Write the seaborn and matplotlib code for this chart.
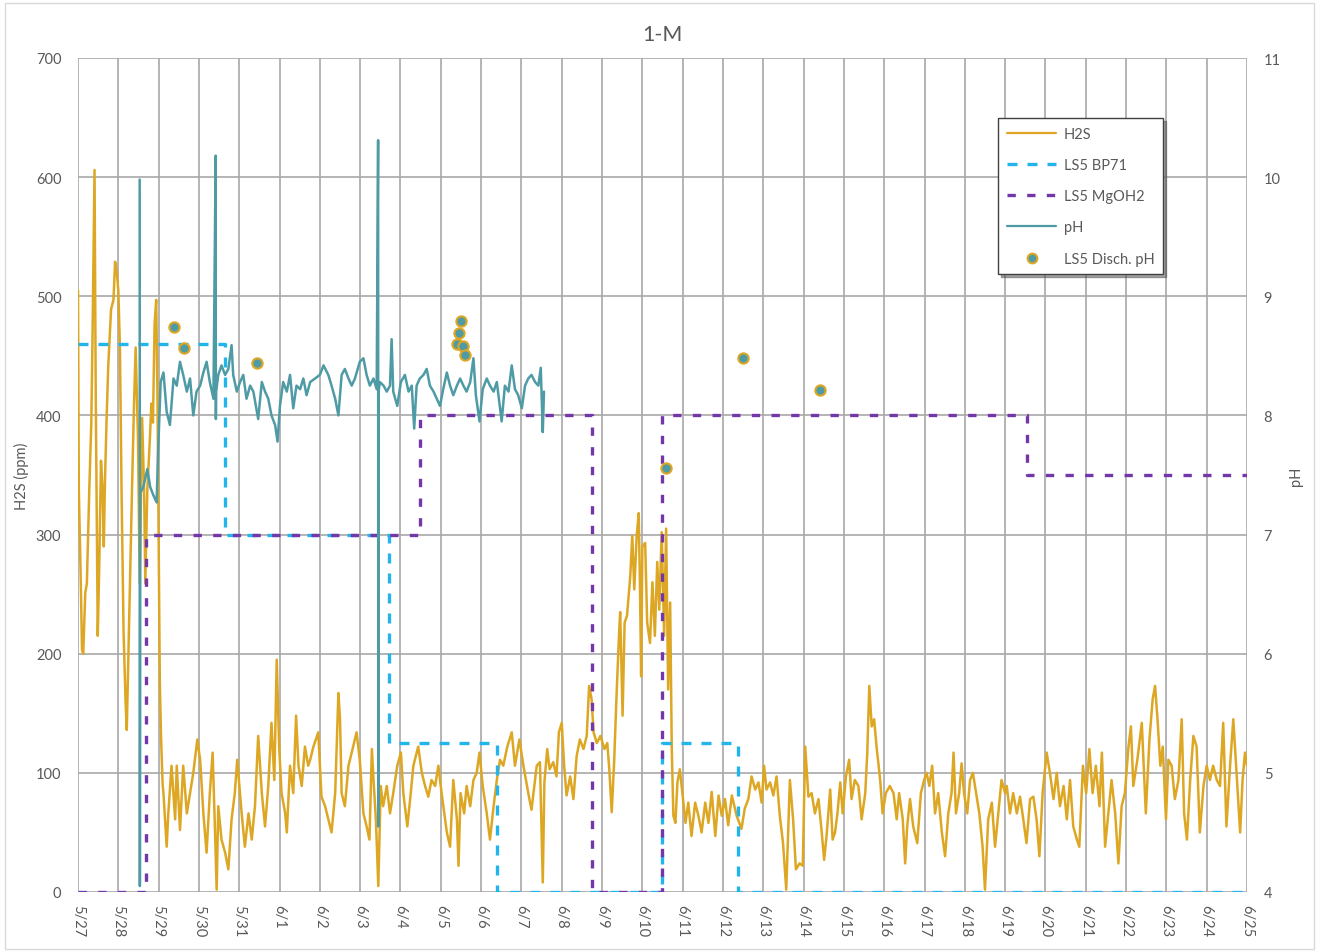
import numpy as np
import pandas as pd
import matplotlib
matplotlib.use("Agg")
import matplotlib.pyplot as plt
import matplotlib.patches as mpatches
from matplotlib.lines import Line2D
import seaborn as sns

# ---------------- data (x = days since 5/27 00:00) ----------------
date_labels = ["5/27", "5/28", "5/29", "5/30", "5/31", "6/1", "6/2", "6/3", "6/4", "6/5",
               "6/6", "6/7", "6/8", "6/9", "6/10", "6/11", "6/12", "6/13", "6/14", "6/15",
               "6/16", "6/17", "6/18", "6/19", "6/20", "6/21", "6/22", "6/23", "6/24", "6/25"]

h2s_day = [0.00, 0.02, 0.06, 0.10, 0.13, 0.18, 0.22, 0.28, 0.33, 0.36, 0.41, 0.44, 0.49, 0.53, 0.57, 0.61,
           0.64, 0.67, 0.71, 0.75, 0.82, 0.88, 0.92, 0.96, 1.00, 1.04, 1.08, 1.13, 1.18, 1.21, 1.25, 1.30,
           1.34, 1.39, 1.43, 1.49, 1.53, 1.59, 1.64, 1.67, 1.72, 1.78, 1.82, 1.86, 1.90, 1.94, 1.97, 2.00,
           2.03, 2.06, 2.10, 2.12, 2.20, 2.24, 2.32, 2.41, 2.45, 2.53, 2.61, 2.70, 2.78, 2.86, 2.96, 3.03,
           3.11, 3.19, 3.27, 3.34, 3.40, 3.44, 3.48, 3.56, 3.65, 3.73, 3.81, 3.89, 3.95, 4.06, 4.14, 4.23,
           4.31, 4.39, 4.47, 4.56, 4.64, 4.72, 4.80, 4.87, 4.93, 4.99, 5.05, 5.14, 5.18, 5.26, 5.34, 5.41,
           5.47, 5.55, 5.63, 5.71, 5.76, 5.84, 5.96, 6.04, 6.13, 6.21, 6.29, 6.38, 6.46, 6.50, 6.54, 6.62,
           6.71, 6.79, 6.91, 6.99, 7.08, 7.16, 7.23, 7.29, 7.34, 7.39, 7.45, 7.51, 7.57, 7.66, 7.74, 7.82,
           7.92, 8.01, 8.07, 8.17, 8.24, 8.32, 8.44, 8.53, 8.61, 8.69, 8.77, 8.86, 8.94, 9.02, 9.15, 9.23,
           9.31, 9.40, 9.44, 9.49, 9.58, 9.64, 9.73, 9.81, 9.89, 9.96, 10.04, 10.14, 10.22, 10.31, 10.39, 10.47,
           10.55, 10.65, 10.76, 10.84, 10.95, 11.05, 11.17, 11.25, 11.38, 11.46, 11.53, 11.57, 11.64, 11.70, 11.79, 11.87,
           11.93, 12.00, 12.06, 12.12, 12.21, 12.29, 12.37, 12.45, 12.54, 12.62, 12.68, 12.74, 12.79, 12.87, 12.96, 13.06,
           13.13, 13.18, 13.24, 13.30, 13.36, 13.42, 13.45, 13.51, 13.56, 13.62, 13.70, 13.75, 13.80, 13.86, 13.91, 13.94,
           13.97, 14.00, 14.07, 14.12, 14.19, 14.25, 14.31, 14.37, 14.42, 14.48, 14.54, 14.59, 14.64, 14.69, 14.73, 14.77,
           14.82, 14.87, 14.93, 15.00, 15.07, 15.14, 15.22, 15.31, 15.39, 15.47, 15.56, 15.64, 15.72, 15.81, 15.89, 15.97,
           16.05, 16.13, 16.22, 16.34, 16.46, 16.54, 16.63, 16.71, 16.80, 16.88, 16.96, 17.02, 17.08, 17.17, 17.25, 17.33,
           17.41, 17.49, 17.57, 17.66, 17.74, 17.81, 17.90, 17.98, 18.04, 18.12, 18.20, 18.28, 18.37, 18.45, 18.51, 18.57,
           18.66, 18.72, 18.78, 18.84, 18.91, 18.97, 19.05, 19.13, 19.19, 19.27, 19.36, 19.44, 19.53, 19.58, 19.63, 19.69,
           19.75, 19.81, 19.90, 19.96, 20.04, 20.14, 20.23, 20.31, 20.37, 20.46, 20.52, 20.57, 20.64, 20.72, 20.82, 20.91,
           20.99, 21.05, 21.12, 21.19, 21.26, 21.34, 21.43, 21.51, 21.59, 21.67, 21.72, 21.78, 21.86, 21.92, 21.98, 22.06,
           22.13, 22.20, 22.28, 22.36, 22.44, 22.50, 22.58, 22.67, 22.75, 22.83, 22.91, 23.00, 23.04, 23.12, 23.20, 23.29,
           23.37, 23.45, 23.53, 23.62, 23.70, 23.78, 23.85, 23.93, 24.03, 24.11, 24.20, 24.28, 24.36, 24.45, 24.53, 24.61,
           24.69, 24.78, 24.84, 24.93, 25.01, 25.09, 25.17, 25.25, 25.34, 25.40, 25.48, 25.56, 25.64, 25.73, 25.81, 25.89,
           25.97, 26.06, 26.12, 26.18, 26.28, 26.39, 26.49, 26.58, 26.66, 26.72, 26.78, 26.85, 26.91, 26.99, 27.05, 27.13,
           27.21, 27.30, 27.38, 27.44, 27.51, 27.59, 27.67, 27.75, 27.83, 27.92, 28.00, 28.08, 28.16, 28.25, 28.33, 28.41,
           28.49, 28.58, 28.66, 28.74, 28.83, 28.89, 28.95, 29.00]

h2s_ppm = [505, 338, 275, 203, 200, 251, 259, 338, 394, 465, 606, 417, 215, 279, 362, 338,
           290, 346, 398, 441, 489, 497, 529, 521, 505, 457, 338, 219, 160, 136, 199, 279,
           338, 410, 457, 378, 259, 398, 338, 259, 338, 378, 410, 394, 477, 497, 420, 300,
           176, 130, 90, 83, 38, 66, 106, 61, 106, 52, 106, 66, 83, 100, 128, 111,
           66, 33, 83, 117, 50, 2, 72, 44, 33, 19, 61, 83, 111, 66, 38, 66,
           44, 72, 131, 83, 55, 89, 142, 94, 195, 122, 83, 66, 50, 106, 83, 148,
           106, 89, 122, 106, 111, 122, 134, 80, 72, 61, 50, 83, 167, 145, 83, 72,
           106, 117, 134, 111, 66, 55, 44, 120, 89, 61, 5, 89, 72, 89, 66, 83,
           106, 117, 83, 55, 78, 106, 122, 100, 89, 80, 94, 89, 106, 83, 50, 38,
           94, 61, 22, 83, 66, 89, 72, 94, 100, 117, 89, 66, 44, 72, 94, 111,
           106, 122, 134, 106, 128, 106, 83, 69, 106, 109, 8, 92, 120, 103, 109, 97,
           134, 142, 106, 81, 97, 78, 114, 128, 120, 131, 173, 162, 134, 125, 131, 120,
           125, 103, 67, 109, 165, 215, 235, 148, 226, 232, 265, 299, 254, 299, 318, 260,
           181, 290, 293, 226, 209, 260, 215, 277, 237, 302, 215, 305, 170, 243, 120, 64,
           58, 92, 103, 81, 58, 75, 47, 75, 64, 50, 75, 58, 84, 47, 81, 64,
           78, 56, 81, 64, 53, 70, 78, 97, 86, 92, 75, 106, 86, 92, 81, 97,
           64, 41, 2, 94, 61, 19, 24, 22, 122, 80, 83, 66, 78, 50, 27, 47,
           86, 44, 50, 66, 92, 66, 97, 111, 78, 94, 89, 61, 83, 117, 173, 139,
           145, 122, 94, 66, 83, 89, 83, 61, 83, 61, 24, 55, 78, 55, 41, 83,
           94, 100, 89, 106, 66, 83, 50, 30, 66, 83, 117, 66, 83, 108, 83, 66,
           94, 100, 83, 66, 38, 2, 61, 75, 38, 66, 94, 83, 89, 66, 83, 66,
           80, 61, 41, 78, 80, 61, 30, 83, 117, 100, 78, 100, 72, 89, 61, 94,
           55, 44, 38, 106, 83, 120, 83, 106, 72, 117, 38, 66, 94, 66, 24, 72,
           83, 122, 139, 89, 111, 142, 66, 128, 162, 173, 145, 106, 122, 61, 111, 106,
           78, 94, 145, 66, 44, 94, 131, 122, 50, 89, 106, 94, 106, 94, 89, 142,
           55, 106, 145, 100, 50, 94, 117, 106]

bp71_day = [0.0, 3.65, 7.72, 10.40, 14.49, 16.37, 29.0]
bp71_ppm = [460, 300, 125, 0, 125, 0, 0]

mg_day = [0.0, 1.69, 8.48, 12.75, 14.49, 23.54, 29.0]
mg_ppm = [0, 300, 400, 0, 400, 350, 350]

ph_day = [1.530, 1.535, 1.545, 1.62, 1.72, 1.79, 1.87, 1.95, 1.99, 2.05, 2.12, 2.20, 2.28, 2.37, 2.45, 2.53,
          2.61, 2.70, 2.78, 2.86, 2.94, 3.03, 3.11, 3.19, 3.27, 3.36, 3.415, 3.42, 3.425, 3.48, 3.56, 3.65,
          3.73, 3.81, 3.85, 3.94, 4.02, 4.10, 4.18, 4.27, 4.35, 4.47, 4.56, 4.64, 4.72, 4.80, 4.89, 4.95,
          5.01, 5.09, 5.18, 5.26, 5.34, 5.42, 5.51, 5.59, 5.67, 5.76, 5.88, 6.00, 6.09, 6.21, 6.29, 6.38,
          6.46, 6.54, 6.62, 6.71, 6.79, 6.87, 6.99, 7.08, 7.16, 7.24, 7.33, 7.41, 7.445, 7.45, 7.455, 7.49,
          7.58, 7.66, 7.74, 7.78, 7.82, 7.92, 8.01, 8.11, 8.20, 8.28, 8.34, 8.40, 8.48, 8.57, 8.65, 8.73,
          8.82, 8.90, 8.98, 9.06, 9.15, 9.23, 9.31, 9.40, 9.48, 9.56, 9.64, 9.73, 9.81, 9.87, 9.96, 10.04,
          10.14, 10.22, 10.31, 10.39, 10.51, 10.59, 10.68, 10.76, 10.84, 10.92, 11.01, 11.09, 11.17, 11.25, 11.34, 11.42,
          11.48, 11.53, 11.56]

ph_val = [9.98, 4.05, 7.35, 7.40, 7.55, 7.40, 7.33, 7.27, 7.72, 8.28, 8.36, 8.03, 7.92, 8.31, 8.25, 8.45,
          8.34, 8.20, 8.31, 8.00, 8.20, 8.25, 8.36, 8.45, 8.28, 8.14, 10.18, 7.97, 8.20, 8.34, 8.42, 8.34,
          8.39, 8.59, 8.34, 8.20, 8.28, 8.34, 8.14, 8.25, 8.20, 7.97, 8.28, 8.20, 8.14, 8.00, 7.92, 7.78,
          8.08, 8.28, 8.20, 8.34, 8.06, 8.25, 8.22, 8.31, 8.17, 8.28, 8.31, 8.34, 8.42, 8.34, 8.25, 8.14,
          8.00, 8.34, 8.39, 8.31, 8.25, 8.31, 8.45, 8.48, 8.34, 8.25, 8.31, 8.22, 10.31, 4.55, 8.20, 8.28,
          8.25, 8.20, 8.25, 8.64, 8.20, 8.08, 8.28, 8.34, 8.20, 8.25, 7.89, 8.25, 8.31, 8.34, 8.39, 8.25,
          8.20, 8.14, 8.08, 8.22, 8.36, 8.25, 8.17, 8.25, 8.31, 8.25, 8.20, 8.28, 8.48, 8.17, 7.95, 8.22,
          8.31, 8.25, 8.20, 8.28, 7.95, 8.25, 8.20, 8.42, 8.22, 8.17, 8.06, 8.25, 8.31, 8.34, 8.28, 8.25,
          8.40, 7.86, 8.20]

disch_day = [2.38, 2.63, 4.44, 9.40, 9.45, 9.50, 9.55, 9.60, 14.59, 16.50, 18.41]
disch_ph = [8.74, 8.57, 8.44, 8.60, 8.69, 8.79, 8.58, 8.51, 7.56, 8.48, 8.21]

# ---------------- styling ----------------
C_H2S = "#DDA724"
C_BP = "#22B5EB"
C_MG = "#7337AA"
C_PH = "#4E9BA5"
C_TXT = "#595959"
C_GRID = "#A8A8A8"

sns.set_style("white")
plt.rcParams["font.family"] = ["Lato", "DejaVu Sans"]

fig = plt.figure(figsize=(13.19, 9.53), dpi=100)
ax = fig.add_axes([78 / 1319, 1 - 893 / 953, (1247 - 78) / 1319, (893 - 59) / 953])
ax2 = ax.twinx()

h2s_df = pd.DataFrame({"day": h2s_day, "ppm": h2s_ppm})
bp_df = pd.DataFrame({"day": bp71_day, "ppm": bp71_ppm})
mg_df = pd.DataFrame({"day": mg_day, "ppm": mg_ppm})
ph_df = pd.DataFrame({"day": ph_day, "ph": ph_val})
ds_df = pd.DataFrame({"day": disch_day, "ph": disch_ph})

sns.lineplot(data=h2s_df, x="day", y="ppm", ax=ax, color=C_H2S, lw=1.8,
             estimator=None, sort=False, legend=False, zorder=3)
sns.lineplot(data=bp_df, x="day", y="ppm", ax=ax, color=C_BP, lw=2.4,
             estimator=None, sort=False, legend=False, drawstyle="steps-post", zorder=4)
sns.lineplot(data=mg_df, x="day", y="ppm", ax=ax, color=C_MG, lw=2.4,
             estimator=None, sort=False, legend=False, drawstyle="steps-post", zorder=4)
lines = ax.get_lines()
lines[1].set_dashes((3.0, 3.0))
lines[2].set_dashes((2.5, 3.4))

sns.lineplot(data=ph_df, x="day", y="ph", ax=ax2, color=C_PH, lw=1.8,
             estimator=None, sort=False, legend=False, zorder=3)
sns.scatterplot(data=ds_df, x="day", y="ph", ax=ax2, color=C_PH, s=55,
                edgecolor=C_H2S, linewidth=1.5, legend=False, zorder=5)

# axes
ax.set_xlim(0, 29)
ax.set_ylim(0, 700)
ax2.set_ylim(4, 11)
ax.set_yticks(np.arange(0, 701, 100))
ax2.set_yticks(np.arange(4, 12, 1))
ax.set_xticks(np.arange(len(date_labels)))
ax.set_xticklabels(date_labels, rotation=-90, fontsize=10.5, color=C_TXT)
ax.tick_params(axis="x", length=0, pad=9)
ax.tick_params(axis="y", length=0, pad=12, labelsize=10.5, labelcolor=C_TXT)
ax2.tick_params(axis="y", length=0, pad=12, labelsize=10.5, labelcolor=C_TXT)
for lab in ax.get_xticklabels():
    lab.set_verticalalignment("top")

ax.grid(True, color=C_GRID, lw=1.2)
ax.set_axisbelow(True)
ax2.grid(False)
for a in (ax, ax2):
    for s in a.spines.values():
        s.set_visible(False)

ax.set_xlabel("")
ax.set_ylabel("H2S (ppm)", fontsize=10.5, color=C_TXT, labelpad=5)
ax2.set_ylabel("pH", fontsize=10.5, color=C_TXT, labelpad=6)
ax.set_title("1-M", fontsize=15.5, color=C_TXT, pad=13)

# legend
handles = [
    Line2D([], [], color=C_H2S, lw=1.6),
    Line2D([], [], color=C_BP, lw=2.4, dashes=(3.0, 3.0)),
    Line2D([], [], color=C_MG, lw=2.4, dashes=(2.5, 3.4)),
    Line2D([], [], color=C_PH, lw=1.6),
    Line2D([], [], color=C_PH, lw=0, marker="o", markersize=7,
           markeredgecolor=C_H2S, markeredgewidth=1.5),
]
labels = ["H2S", "LS5 BP71", "LS5 MgOH2", "pH", "LS5 Disch. pH"]
leg = ax2.legend(handles, labels, loc="upper left", bbox_to_anchor=(0.787, 0.928),
                 borderaxespad=0, fontsize=10.5, frameon=True, fancybox=False, shadow=True,
                 framealpha=1, edgecolor="#404040", handlelength=3.4, labelspacing=1.18,
                 borderpad=0.6, handletextpad=0.5)
leg.get_frame().set_linewidth(1.0)
for t in leg.get_texts():
    t.set_color(C_TXT)
leg.set_zorder(10)

fig.patches.append(mpatches.Rectangle((0.004, 0.003), 0.992, 0.993, transform=fig.transFigure,
                                      fill=False, edgecolor="#D9D9D9", lw=1.0))

fig.savefig("out.png", dpi=100)
